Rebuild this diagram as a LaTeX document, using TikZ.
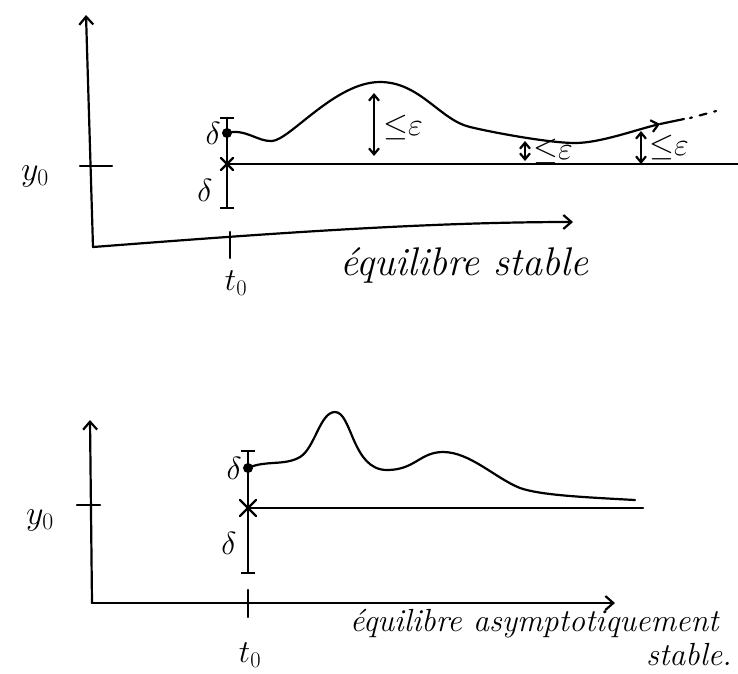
\RequirePackage{fix-cm}
\documentclass[tikz,border=0pt]{standalone}
\usepackage{tikz}
\usetikzlibrary{arrows.meta,positioning,shapes.misc}

\begin{document}
\begin{tikzpicture}[x=1pt, y=-1pt,
    hand/.style={line width=2.2pt, line cap=round, line join=round},
    axis/.style={hand, -{Straight Barb[length=8pt, width=14pt]}},
    gap/.style={hand, {Straight Barb[length=6pt, width=10pt]}-{Straight Barb[length=6pt, width=10pt]}},
    bar/.style={hand, {Bar[width=14pt]}-{Bar[width=14pt]}},
    cross/.style={draw, cross out, hand, minimum size=10pt, inner sep=0pt},
    lbl/.style={font=\fontsize{32}{34}\selectfont, inner sep=0pt},
    txt/.style={font=\fontsize{40}{42}\selectfont\itshape, inner sep=0pt}
  ]
  \useasboundingbox (0,0) rectangle (738,673);

  % equilibre stable
  \coordinate (o1) at (93,247);
  \coordinate (ytop1) at (86,15);
  \coordinate (xend1) at (573,222);
  \coordinate (y1a) at (80,166);
  \coordinate (y1b) at (112,166);
  \coordinate (t1a) at (230,232);
  \coordinate (t1b) at (230,258);
  \coordinate (btop1) at (227,117);
  \coordinate (bbot1) at (227,209);
  \coordinate (x1) at (227,164);
  \coordinate (d1) at (227,133);
  \coordinate (r1) at (738,164);

  \draw[axis] (o1) -- (ytop1);
  \draw[axis] (o1) .. controls (250,235) and (420,222) .. (xend1);
  \draw[hand] (y1a) -- (y1b);
  \draw[hand] (t1a) -- (t1b);
  \draw[bar] (bbot1) -- (btop1);
  \draw[hand] (x1) -- (r1);
  \node[cross] (c1) at (x1) {};
  \fill (d1) circle (5pt);
  \draw[hand, -{Straight Barb[length=7pt, width=12pt]}] (d1)
    .. controls (245,128) and (258,142) .. (272,141)
    .. controls (290,140) and (335,82) .. (380,82)
    .. controls (420,82) and (440,120) .. (470,127)
    .. controls (495,133) and (550,143) .. (575,143)
    .. controls (600,143) and (635,130) .. (660,124);
  \draw[hand] (660,124) -- (684,119);
  \draw[hand, dash pattern=on 2pt off 8pt on 7pt off 8pt] (690,118) -- (720,110);

  \node[lbl, left=6pt of d1] (dd1) {$\delta$};
  \node[lbl] (dd2) at (205,190) {$\delta$};
  \node[font=\fontsize{34}{36}\selectfont, inner sep=0pt] (yl1) at (35,176) {$y_0$};
  \node[font=\fontsize{32}{34}\selectfont, inner sep=0pt] (tl1) at (236,283) {$t_0$};

  \coordinate (e1a) at (374,93);
  \coordinate (e1b) at (374,156);
  \coordinate (e2a) at (525,141);
  \coordinate (e2b) at (525,161);
  \coordinate (e3a) at (641,131);
  \coordinate (e3b) at (641,164);
  \foreach \a/\b in {e1a/e1b,e2a/e2b,e3a/e3b}
    \draw[gap] (\a) -- (\b);
  \node[lbl, anchor=west] (eps1) at (383,127) {$\mathord{\leq}\varepsilon$};
  \node[lbl, anchor=west] (eps2) at (533,151) {$\mathord{\leq}\varepsilon$};
  \node[lbl, anchor=west] (eps3) at (649,147) {$\mathord{\leq}\varepsilon$};

  \node[txt, anchor=west] (title1) at (340,265) {équilibre stable};

  % equilibre asymptotiquement stable
  \coordinate (o2) at (92,603);
  \coordinate (ytop2) at (90,420);
  \coordinate (xend2) at (615,603);
  \coordinate (y2a) at (77,505);
  \coordinate (y2b) at (100,505);
  \coordinate (t2a) at (248,590);
  \coordinate (t2b) at (248,617);
  \coordinate (btop2) at (248,450);
  \coordinate (bbot2) at (248,574);
  \coordinate (x2) at (248,508);
  \coordinate (d2) at (248,468);
  \coordinate (r2) at (643,508);

  \draw[axis] (o2) -- (ytop2);
  \draw[axis] (o2) -- (xend2);
  \draw[hand] (y2a) -- (y2b);
  \draw[hand] (t2a) -- (t2b);
  \draw[bar] (bbot2) -- (btop2);
  \draw[hand] (x2) -- (r2);
  \node[cross, minimum size=14pt] (c2) at (x2) {};
  \fill (d2) circle (5pt);
  \draw[hand] (d2)
    .. controls (265,460) and (285,466) .. (300,457)
    .. controls (315,448) and (320,412) .. (335,412)
    .. controls (352,412) and (352,470) .. (387,470)
    .. controls (415,470) and (420,452) .. (443,452)
    .. controls (470,452) and (495,478) .. (520,488)
    .. controls (540,495) and (580,497) .. (635,500);

  \node[lbl, left=6pt of d2] (dd3) {$\delta$};
  \node[lbl] (dd4) at (229,543) {$\delta$};
  \node[font=\fontsize{34}{36}\selectfont, inner sep=0pt] (yl2) at (40,520) {$y_0$};
  \node[font=\fontsize{32}{34}\selectfont, inner sep=0pt] (tl2) at (250,655) {$t_0$};

  \node[txt, font=\fontsize{32}{34}\selectfont\itshape, anchor=west] (title2) at (350,624) {équilibre asymptotiquement};
  \node[txt, font=\fontsize{32}{34}\selectfont\itshape, anchor=east] (title3) at (732,655) {stable.};
\end{tikzpicture}
\end{document}
